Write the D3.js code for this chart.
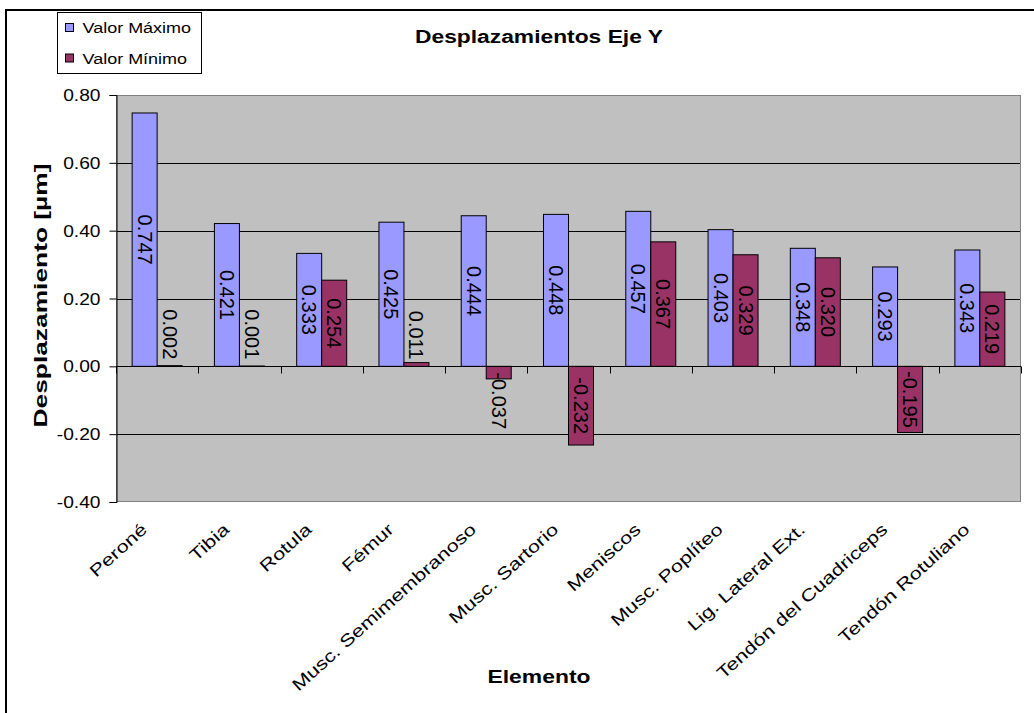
<!DOCTYPE html>
<html>
<head>
<meta charset="utf-8">
<script src="https://cdn.jsdelivr.net/npm/d3@7"></script>
<style>
  html, body { margin: 0; padding: 0; background: #fff; }
  svg { display: block; font-family: "Liberation Sans", Arial, sans-serif; }
</style>
</head>
<body>
<svg id="chart" width="1034" height="713"></svg>
<script>
// ---- data ----
const categories = ["Peroné", "Tibia", "Rotula", "Fémur", "Musc. Semimembranoso", "Musc. Sartorio",
  "Meniscos", "Musc. Poplíteo", "Lig. Lateral Ext.", "Tendón del Cuadriceps", "Tendón Rotuliano"];
const seriesNames = ["Valor Máximo", "Valor Mínimo"];
const maxValues = [0.747, 0.421, 0.333, 0.425, 0.444, 0.448, 0.457, 0.403, 0.348, 0.293, 0.343];
const minValues = [0.002, 0.001, 0.254, 0.011, -0.037, -0.232, 0.367, 0.329, 0.320, -0.195, 0.219];
const yTicks = [0.80, 0.60, 0.40, 0.20, 0.00, -0.20, -0.40];
const chartTitle = "Desplazamientos Eje Y";
const xTitle = "Elemento";
const yTitle = "Desplazamiento [µm]";

// ---- layout / style ----
const colors = ["#9999FF", "#993366"];
const plot = { left: 116, right: 1021, top: 95, bottom: 502 };
const locale = d3.formatLocale({ decimal: ".", thousands: ",", grouping: [3], currency: ["", ""], minus: "-" });
const fmtTick = locale.format(".2f");
const fmtLabel = locale.format(".3f");

const svg = d3.select("#chart");

// outer chart border (cropped on right/bottom like the reference)
svg.append("rect").attr("x", 6).attr("y", 10).attr("width", 1060).attr("height", 740)
  .attr("fill", "#fff").attr("stroke", "#000").attr("stroke-width", 2);

const y = d3.scaleLinear().domain([-0.4, 0.8]).range([plot.bottom, plot.top]);
const x = d3.scaleBand().domain(categories).range([plot.left, plot.right]).paddingInner(0).paddingOuter(0);
const sub = d3.scaleBand().domain(seriesNames).range([0, 50]);
const barOffset = (x.bandwidth() - 50) / 2;

// plot area
svg.append("rect").attr("x", plot.left).attr("y", plot.top)
  .attr("width", plot.right - plot.left).attr("height", plot.bottom - plot.top)
  .attr("fill", "#C0C0C0");

// gridlines
svg.append("g").selectAll("line").data(yTicks.filter(v => v !== 0 && v < 0.8 && v > -0.4)).join("line")
  .attr("x1", plot.left).attr("x2", plot.right)
  .attr("y1", d => Math.round(y(d)) + 0.5).attr("y2", d => Math.round(y(d)) + 0.5)
  .attr("stroke", "#000").attr("stroke-width", 1);

// plot border
svg.append("rect").attr("x", plot.left + 0.5).attr("y", plot.top + 0.5)
  .attr("width", plot.right - plot.left - 1).attr("height", plot.bottom - plot.top - 1)
  .attr("fill", "none").attr("stroke", "#808080").attr("stroke-width", 1);

// bars
const rows = categories.map((c, i) => ({ cat: c, vals: [maxValues[i], minValues[i]] }));
const groups = svg.append("g").selectAll("g").data(rows).join("g")
  .attr("transform", d => `translate(${x(d.cat) + barOffset},0)`);
groups.selectAll("rect").data(d => d.vals.map((v, k) => ({ v, k }))).join("rect")
  .attr("x", d => sub(seriesNames[d.k]))
  .attr("width", sub.bandwidth())
  .attr("y", d => y(Math.max(0, d.v)))
  .attr("height", d => Math.abs(y(d.v) - y(0)))
  .attr("fill", d => colors[d.k])
  .attr("stroke", "#000").attr("stroke-width", 1);

// x axis line at zero
const y0 = Math.round(y(0)) + 0.5;
svg.append("line").attr("x1", plot.left).attr("x2", plot.right).attr("y1", y0).attr("y2", y0)
  .attr("stroke", "#000").attr("stroke-width", 1);
// category boundary ticks
svg.append("g").selectAll("line").data(d3.range(categories.length + 1)).join("line")
  .attr("x1", i => Math.round(plot.left + i * x.step()) + 0.5)
  .attr("x2", i => Math.round(plot.left + i * x.step()) + 0.5)
  .attr("y1", y0).attr("y2", y0 + 7)
  .attr("stroke", "#000").attr("stroke-width", 1);

// y axis
const yAxis = d3.axisLeft(y).tickValues(yTicks).tickFormat(fmtTick).tickSize(7).tickPadding(9);
const yg = svg.append("g").attr("transform", `translate(${plot.left + 0.5},0)`).call(yAxis);
yg.select(".domain").attr("stroke", "#000");
yg.selectAll(".tick line").attr("stroke", "#000");
yg.selectAll(".tick text").attr("fill", "#000").attr("font-size", 16)
  .attr("font-family", "Liberation Sans, Arial, sans-serif")
  .attr("dy", "0.35em")
  .attr("transform", function () {
    const xx = +d3.select(this).attr("x");
    return `translate(${xx},0) scale(1.2,1) translate(${-xx},0)`;
  });

// data labels (rotated 90°)
const labelFont = 20;
groups.selectAll("text").data(d => d.vals.map((v, k) => ({ v, k }))).join("text")
  .attr("font-size", labelFont)
  .attr("fill", "#000")
  .attr("dominant-baseline", "central")
  .text(d => fmtLabel(d.v))
  .each(function (d) {
    const t = d3.select(this);
    const len = this.getComputedTextLength();
    const cx = sub(seriesNames[d.k]) + sub.bandwidth() / 2;
    const h = Math.abs(y(d.v) - y(0));
    let cy;
    if (len + 8 > h) {
      cy = d.v >= 0 ? y(0) - 7 - len / 2 : y(0) + 6 + len / 2;
    } else {
      cy = (y(d.v) + y(0)) / 2;
    }
    t.attr("text-anchor", "middle")
      .attr("transform", `translate(${cx},${cy}) rotate(90)`);
  });

// category labels
svg.append("g").selectAll("text").data(categories).join("text")
  .attr("font-size", 17).attr("fill", "#000").attr("text-anchor", "end")
  .attr("transform", d => `translate(${x(d) + x.bandwidth() / 2 - 9},531) rotate(-42) scale(1.28,1)`)
  .text(d => d);

// title
svg.append("text").attr("x", 539).attr("y", 43).attr("text-anchor", "middle")
  .attr("font-size", 18).attr("font-weight", "bold")
  .attr("textLength", 248).attr("lengthAdjust", "spacingAndGlyphs")
  .text(chartTitle);

// axis titles
svg.append("text").attr("x", 539).attr("y", 683).attr("text-anchor", "middle")
  .attr("font-size", 19).attr("font-weight", "bold")
  .attr("textLength", 103).attr("lengthAdjust", "spacingAndGlyphs")
  .text(xTitle);
svg.append("text").attr("transform", "translate(47,295.5) rotate(-90)").attr("text-anchor", "middle")
  .attr("font-size", 19).attr("font-weight", "bold")
  .attr("textLength", 264).attr("lengthAdjust", "spacingAndGlyphs")
  .text(yTitle);

// legend
const lg = svg.append("g");
lg.append("rect").attr("x", 57.5).attr("y", 12.5).attr("width", 144).attr("height", 61)
  .attr("fill", "#fff").attr("stroke", "#000").attr("stroke-width", 1);
const items = lg.selectAll("g.item").data(seriesNames).join("g").attr("class", "item")
  .attr("transform", (d, i) => `translate(0,${i * 30.5})`);
items.append("rect").attr("x", 65.5).attr("y", 23.5).attr("width", 8).attr("height", 8)
  .attr("fill", (d, i) => colors[i]).attr("stroke", "#000").attr("stroke-width", 1);
items.append("text").attr("font-size", 15).attr("fill", "#000")
  .attr("transform", "translate(82.5,33) scale(1.2,1)")
  .text(d => d);
</script>
</body>
</html>
